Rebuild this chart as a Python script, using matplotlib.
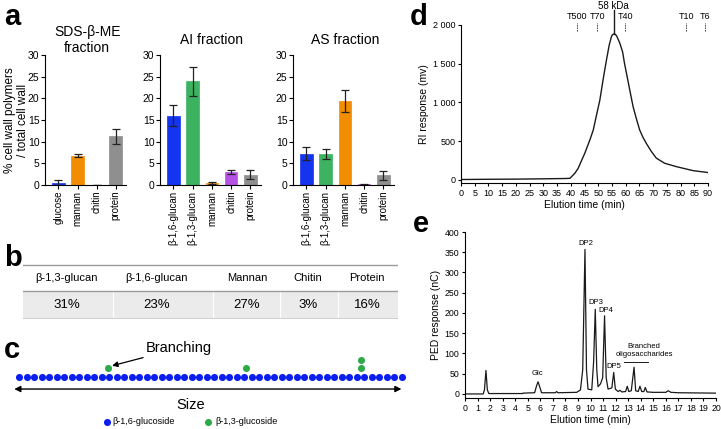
import matplotlib
matplotlib.use('Agg')
import matplotlib.pyplot as plt
from matplotlib.ticker import FuncFormatter

plt.rcParams['font.family'] = ['Liberation Sans', 'DejaVu Sans']
plt.rcParams['axes.linewidth'] = 0.8
plt.rcParams['xtick.major.width'] = 0.8
plt.rcParams['ytick.major.width'] = 0.8

W, H = 721, 429

# ── data: panel a ─────────────────────────────────────────────
sds_labels = ['glucose', 'mannan', 'chitin', 'protein']
sds_vals   = [0.5, 6.8, 0.0, 11.2]
sds_err    = [0.7, 0.3, 0.0, 1.7]
sds_cols   = ['#1434F0', '#F28C00', '#B552E6', '#8F8F8F']

ai_labels = ['β-1,6-glucan', 'β-1,3-glucan', 'mannan', 'chitin', 'protein']
ai_vals   = [16.0, 23.9, 0.5, 3.0, 2.4]
ai_err    = [2.5, 3.3, 0.3, 0.5, 1.0]

as_labels = ['β-1,6-glucan', 'β-1,3-glucan', 'mannan', 'chitin', 'protein']
as_vals   = [7.2, 7.2, 19.4, 0.2, 2.2]
as_err    = [1.5, 1.1, 2.6, 0.1, 1.0]
five_cols = ['#1434F0', '#3DB362', '#F28C00', '#B552E6', '#8F8F8F']

# ── data: panel b ─────────────────────────────────────────────
comp_names = ['β-1,3-glucan', 'β-1,6-glucan', 'Mannan', 'Chitin', 'Protein']
comp_pct   = ['31%', '23%', '27%', '3%', '16%']

# ── data: panel c ─────────────────────────────────────────────
n_backbone = 52
branch_x   = [11.9, 30.2, 45.5, 45.5]
branch_lvl = [1, 1, 1, 2]

# ── data: panel d (RI chromatogram) ───────────────────────────
d_time = [0, 10, 20, 30, 38, 39.7, 41.5, 42.7, 45.1, 47.0, 48.2, 49.4, 50.6,
          51.8, 53.0, 54.0, 54.8, 55.2, 55.7, 56.2, 56.7, 57.9, 58.9, 59.6,
          60.3, 61.5, 62.7, 63.9, 65.1, 66.3, 67.5, 69.3, 71.2, 74.2, 78.4,
          84.5, 90]
d_ri   = [5, 8, 10, 14, 18, 21, 86, 150, 344, 520, 645, 840, 1032,
          1300, 1548, 1740, 1849, 1875, 1885, 1880, 1860, 1763, 1650, 1500,
          1376, 1160, 946, 790, 645, 550, 473, 370, 280, 215, 172,
          120, 95]
std_names = ['T500', 'T70', 'T40', 'T10', 'T6']
std_pos   = [42.1, 49.6, 59.9, 82.1, 88.8]
peak_pos, peak_ri, peak_lab = 55.7, 1885, '58 kDa'

# ── data: panel e (PED chromatogram) ──────────────────────────
e_time = [0, 1.45, 1.55, 1.67, 1.78, 1.9, 4.6, 4.62, 5.55, 5.7, 5.82, 5.95, 6.1,
          7.2, 7.3, 7.4, 8.9, 9.2, 9.38, 9.56, 9.68, 9.8, 10.1, 10.25, 10.38,
          10.5, 10.6, 10.8, 10.97, 11.12, 11.25, 11.4, 11.7, 11.85, 11.98,
          12.2, 12.35, 12.5, 12.8, 12.93, 13.05, 13.25, 13.47, 13.6, 13.8,
          13.94, 14.08, 14.25, 14.37, 14.5, 15, 16, 16.2, 16.4, 17, 20]
e_ped  = [0, 0, 10, 58, 10, 1, 1, 2, 3, 20, 30, 18, 3,
          3, 6, 3, 4, 10, 60, 357, 60, 12, 10, 80, 209,
          60, 18, 25, 40, 193, 40, 12, 15, 53, 12,
          6, 9, 5, 6, 19, 6, 8, 66, 8, 6,
          19, 6, 6, 16, 5, 4, 4, 8, 4, 3, 2]
e_labels = [('Glc', 5.76, 42), ('DP2', 9.64, 362), ('DP3', 10.4, 217),
            ('DP4', 11.2, 197), ('DP5', 11.87, 60)]


def box(l, t, r, b):
    return [l / W, 1 - b / H, (r - l) / W, (b - t) / H]


fig = plt.figure(figsize=(W / 100, H / 100), dpi=100)

# ── panel a ───────────────────────────────────────────────────
bar_sets = [
    ('SDS-β-ME\nfraction', sds_labels, sds_vals, sds_err, sds_cols, 45),
    ('AI fraction', ai_labels, ai_vals, ai_err, five_cols, 160),
    ('AS fraction', as_labels, as_vals, as_err, five_cols, 293),
]
step = 19.6
for i, (title, labs, vals, errs, cols, left) in enumerate(bar_sets):
    n = len(vals)
    right = left + (n - 1 + 1.15) * step
    ax = fig.add_axes(box(left, 55, right, 185))
    xs = list(range(n))
    ax.bar(xs, vals, width=0.66, color=cols, edgecolor=cols, linewidth=0.5)
    ax.errorbar(xs, vals, yerr=errs, fmt='none', ecolor='#222222',
                elinewidth=0.9, capsize=3, capthick=0.9)
    ax.set_xlim(-0.7, n - 0.45)
    ax.set_ylim(0, 30)
    ax.set_yticks(range(0, 31, 5))
    ax.set_xticks(xs)
    ax.set_xticklabels(labs, rotation=90, fontsize=7)
    ax.tick_params(axis='y', labelsize=7.5, length=3, pad=1)
    ax.tick_params(axis='x', length=3, pad=1)
    for s in ['top', 'right']:
        ax.spines[s].set_visible(False)
    ax.text((n - 1) / 2, 1 + 15 / 130, title, transform=ax.get_xaxis_transform(),
            ha='center', va='center', fontsize=10, linespacing=1.1)
    if i == 0:
        ax.set_ylabel('% cell wall polymers\n/ total cell wall', fontsize=8.5,
                      linespacing=1.1)
        ax.yaxis.set_label_coords(-0.2, 0.5)

# ── panel b: composition table ────────────────────────────────
axb = fig.add_axes(box(23, 262, 398, 322))
axb.set_xlim(23, 398)
axb.set_ylim(322, 262)
axb.axis('off')
col_x = [67, 157, 247, 308, 367]
axb.axhspan(291, 318, color='#EBEBEB', lw=0)
for xb in [113, 213, 280, 338]:
    axb.plot([xb, xb], [291, 318], color='white', lw=0.8)
axb.axhline(265, color='#9A9A9A', lw=1)
axb.axhline(291, color='#9A9A9A', lw=1)
axb.axhline(318, color='#C8C8C8', lw=0.6)
for xc, name, pct in zip(col_x, comp_names, comp_pct):
    axb.text(xc, 278, name, ha='center', va='center', fontsize=8)
    axb.text(xc, 305, pct, ha='center', va='center', fontsize=9.5)

# ── panel c: schematic ────────────────────────────────────────
axc = fig.add_axes(box(10, 335, 410, 429))
axc.set_xlim(-1.2, 52.07)
axc.set_ylim(-5.9, 4.8)
axc.axis('off')
axc.scatter(range(n_backbone), [0] * n_backbone, s=26, color='#0A1EF0',
            lw=0, zorder=3)
axc.scatter(branch_x, branch_lvl, s=26, color='#2EAA4A', lw=0, zorder=3)
axc.annotate('', xy=(-1.0, -1.35), xytext=(51.3, -1.35),
             arrowprops=dict(arrowstyle='<|-|>', color='black', lw=1,
                             mutation_scale=9))
axc.text(22.8, -3.2, 'Size', ha='center', va='center', fontsize=10.5)
axc.annotate('Branching', xy=(12.4, 1.3), xytext=(16.9, 3.3),
             fontsize=10.5, va='center', ha='left',
             arrowprops=dict(arrowstyle='-|>', color='black', lw=0.9,
                             mutation_scale=8, shrinkA=0, shrinkB=0))
axc.scatter([11.7], [-5.1], s=26, color='#0A1EF0', lw=0)
axc.text(12.5, -5.1, 'β-1,6-glucoside', va='center', fontsize=6.5)
axc.scatter([25.2], [-5.1], s=26, color='#2EAA4A', lw=0)
axc.text(26.1, -5.1, 'β-1,3-glucoside', va='center', fontsize=6.5)

# ── panel d: RI ───────────────────────────────────────────────
axd = fig.add_axes(box(461, 25, 708, 183))
axd.plot(d_time, d_ri, color='#1A1A1A', lw=1.0)
axd.set_xlim(0, 90)
axd.set_ylim(-40, 2000)
axd.set_xticks(range(0, 91, 5))
axd.set_yticks(range(0, 2001, 500))
axd.yaxis.set_major_formatter(FuncFormatter(lambda v, p: f'{v:,.0f}'.replace(',', ' ')))
axd.tick_params(labelsize=6.5, length=2.5, pad=1.5)
for s in ['top', 'right']:
    axd.spines[s].set_visible(False)
axd.set_xlabel('Elution time (min)', fontsize=7.5, labelpad=2)
axd.set_ylabel('RI response (mv)', fontsize=7.5, labelpad=3)
for nm, xp in zip(std_names, std_pos):
    axd.plot([xp, xp], [1920, 2030], color='#333333', lw=0.7, ls=(0, (1.5, 1)),
             clip_on=False)
    axd.text(xp, 2105, nm, ha='center', va='center', fontsize=6.5)
axd.plot([peak_pos, peak_pos], [peak_ri + 5, 2200], color='#1A1A1A', lw=1,
         clip_on=False)
axd.text(peak_pos, 2245, peak_lab, ha='center', va='center', fontsize=7)

# ── panel e: PED ──────────────────────────────────────────────
axe = fig.add_axes(box(465, 232, 716, 398))
axe.plot(e_time, e_ped, color='#1A1A1A', lw=0.9)
axe.set_xlim(0, 20)
axe.set_ylim(-10, 400)
axe.set_xticks(range(0, 21))
axe.set_yticks(range(0, 401, 50))
axe.tick_params(labelsize=6.3, length=2.5, pad=1.5)
for s in ['top', 'right']:
    axe.spines[s].set_visible(False)
axe.set_xlabel('Elution time (min)', fontsize=7.5, labelpad=2)
axe.set_ylabel('PED response (nC)', fontsize=7.5, labelpad=3)
for lab, xp, yp in e_labels:
    axe.text(xp, yp, lab, ha='center', va='bottom', fontsize=5.5)
axe.text(14.26, 88, 'Branched\noligosaccharides', ha='center', va='bottom',
         fontsize=5.5, linespacing=1.3)
axe.plot([12.7, 14.6], [78, 78], color='#1A1A1A', lw=0.7)

# ── panel letters ─────────────────────────────────────────────
for letter, (px, py) in zip('abcde', [(12, 17), (13, 258), (12, 350), (419, 17), (421, 224)]):
    fig.text(px / W, 1 - py / H, letter, fontsize=21, fontweight='bold',
             ha='center', va='center')

plt.savefig('out.png', dpi=100, facecolor='white')
